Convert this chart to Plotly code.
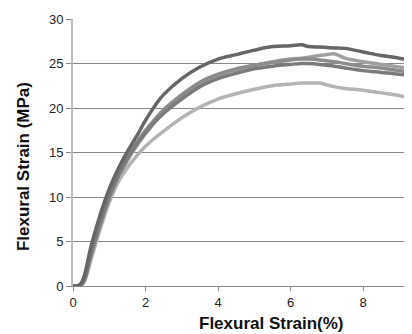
import plotly.graph_objects as go

strain = [0, 0.1, 0.2, 0.3, 0.5, 0.75, 1.0, 1.25, 1.5, 1.75, 2.0, 2.25, 2.5, 3.0, 3.5,
          4.0, 4.5, 5.0, 5.5, 6.0, 6.3, 6.5, 6.8, 7.0, 7.2, 7.5, 8.0, 8.5, 9.0, 9.35]

stress_a = [0, 0, 0.2, 1.0, 4.5, 8.0, 10.9, 13.2, 15.1, 16.8, 18.6, 20.2, 21.5, 23.3, 24.6,
            25.5, 26.0, 26.5, 26.9, 27.0, 27.1, 26.9, 26.85, 26.8, 26.75, 26.7, 26.3, 25.9, 25.6, 25.3]
stress_b = [0, 0, 0.1, 0.6, 3.6, 7.0, 10.0, 12.4, 14.3, 15.9, 17.2, 18.4, 19.4, 21.0, 22.4,
            23.3, 23.9, 24.4, 24.7, 24.9, 25.0, 25.0, 24.9, 24.8, 24.7, 24.5, 24.2, 24.0, 23.8, 23.6]
stress_c = [0, 0, 0.1, 0.5, 3.4, 6.8, 9.8, 12.2, 14.1, 15.7, 17.1, 18.4, 19.6, 21.3, 22.7,
            23.6, 24.3, 24.8, 25.2, 25.5, 25.6, 25.7, 25.9, 26.0, 26.1, 25.6, 25.2, 24.9, 24.6, 24.4]
stress_d = [0, 0, 0.1, 0.6, 3.7, 7.2, 10.2, 12.6, 14.5, 16.1, 17.5, 18.7, 19.8, 21.5, 22.9,
            23.8, 24.4, 24.8, 25.1, 25.4, 25.5, 25.5, 25.4, 25.3, 25.2, 25.0, 24.7, 24.5, 24.2, 24.0]
stress_e = [0, 0, 0.05, 0.4, 3.0, 6.4, 9.4, 11.7, 13.3, 14.6, 15.7, 16.6, 17.4, 18.9, 20.1,
            21.0, 21.6, 22.1, 22.5, 22.7, 22.8, 22.8, 22.8, 22.6, 22.4, 22.2, 22.0, 21.7, 21.4, 21.0]

x_ticks = [0, 2, 4, 6, 8]
y_ticks = [0, 5, 10, 15, 20, 25, 30]

series = [
    (stress_e, "#b4b4b4"),
    (stress_c, "#a0a0a0"),
    (stress_d, "#8c8c8c"),
    (stress_b, "#7b7b7b"),
    (stress_a, "#666666"),
]

fig = go.Figure()
for ys, col in series:
    fig.add_trace(go.Scatter(x=strain, y=ys, mode="lines",
                             line=dict(color=col, width=3.5, shape="spline"),
                             showlegend=False, hoverinfo="skip"))

fig.update_layout(
    width=404, height=326,
    margin=dict(l=65, r=0, t=11, b=48, autoexpand=False),
    plot_bgcolor="white", paper_bgcolor="white",
    font=dict(family="Liberation Sans", size=13, color="#222222"),
    xaxis=dict(range=[0, 9.35], tickvals=x_ticks, showgrid=False, zeroline=False,
               showline=True, linecolor="#888888", linewidth=1,
               ticks="outside", ticklen=4, tickcolor="#888888",
               tickfont=dict(size=13, color="#222222")),
    yaxis=dict(range=[0, 30], tickvals=y_ticks, showgrid=True, gridcolor="#888888",
               gridwidth=1, zeroline=False,
               showline=True, linecolor="#bdbdbd", linewidth=2,
               ticks="outside", ticklen=5, tickcolor="#888888",
               tickfont=dict(size=13, color="#222222")),
    annotations=[
        dict(text="<b>Flexural Strain(%)</b>", xref="paper", yref="paper",
             x=0.587, y=-0.139, showarrow=False, xanchor="center", yanchor="middle",
             font=dict(size=17, color="#111111", family="Liberation Sans")),
        dict(text="<b>Flexural Strain (MPa)</b>", xref="paper", yref="paper",
             x=-0.1475, y=0.449, showarrow=False, xanchor="center", yanchor="middle",
             textangle=-90,
             font=dict(size=17, color="#111111", family="Liberation Sans")),
    ],
)

fig.write_html("out.html")
